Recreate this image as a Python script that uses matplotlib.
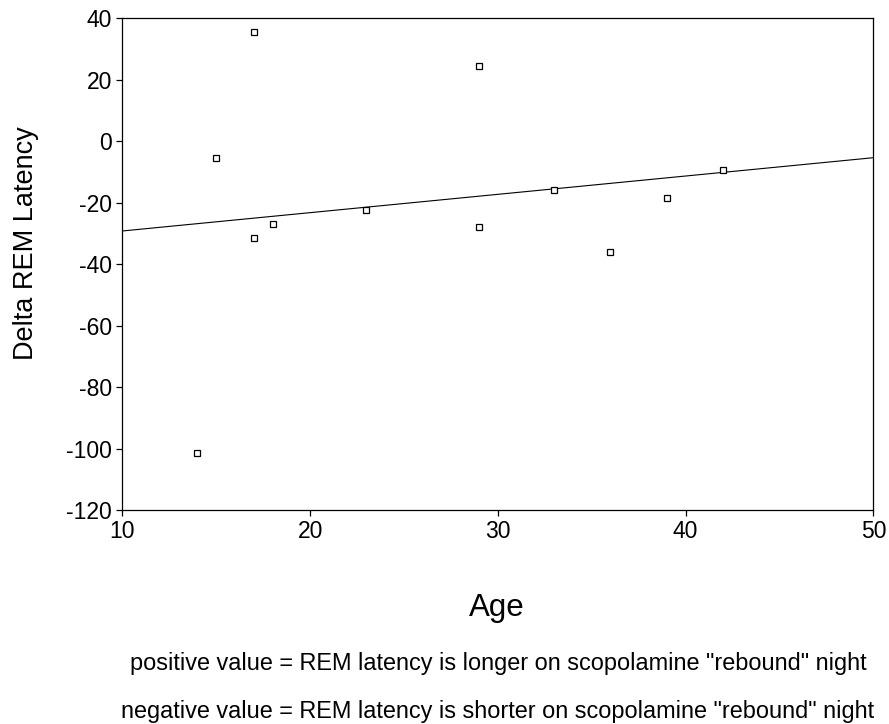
import matplotlib
matplotlib.use('Agg')
import matplotlib.pyplot as plt
import numpy as np

plt.rcParams['font.family'] = ['Liberation Sans', 'DejaVu Sans']
plt.rcParams['axes.unicode_minus'] = False

# Age vs change in REM latency
age = [14, 15, 17, 17, 18, 23, 29, 29, 33, 36, 39, 42]
delta_rem = [-101.5, -5.5, 35.5, -31.5, -27, -22.5, 24.5, -28, -16, -36, -18.5, -9.5]

x_ticks = [10, 20, 30, 40, 50]
y_ticks = [40, 20, 0, -20, -40, -60, -80, -100, -120]

notes = ['positive value = REM latency is longer on scopolamine "rebound" night',
         'negative value = REM latency is shorter on scopolamine "rebound" night']

fig = plt.figure(figsize=(8.89, 7.24), dpi=100)
ax = fig.add_axes([0.1376, 0.2956, 0.8448, 0.6791])

ax.plot(age, delta_rem, linestyle='none', marker='s', markersize=4.2,
        markerfacecolor='white', markeredgecolor='black', markeredgewidth=0.9,
        zorder=3)

# least squares fit line across the axis range
slope, intercept = np.polyfit(age, delta_rem, 1)
fit_x = np.array([10, 50])
ax.plot(fit_x, slope * fit_x + intercept, color='black', linewidth=0.8, zorder=2)

ax.set_xlim(10, 50)
ax.set_ylim(-120, 40)
ax.set_xticks(x_ticks)
ax.set_yticks(y_ticks)
ax.tick_params(direction='out', length=4.5, width=0.9, labelsize=16.5,
               colors='black', pad=3)
for s in ax.spines.values():
    s.set_linewidth(0.9)

ax.set_xlabel('Age', fontsize=22.5)
ax.xaxis.set_label_coords(0.498, -0.169)
ax.set_ylabel('Delta REM Latency', fontsize=19.5)
ax.yaxis.set_label_coords(-0.111, 0.543)

fig.text(0.560, 1 - 670 / 724, notes[0], ha='center', va='baseline', fontsize=16.9)
fig.text(0.560, 1 - 718 / 724, notes[1], ha='center', va='baseline', fontsize=16.9)

fig.savefig('out.png', dpi=100)
